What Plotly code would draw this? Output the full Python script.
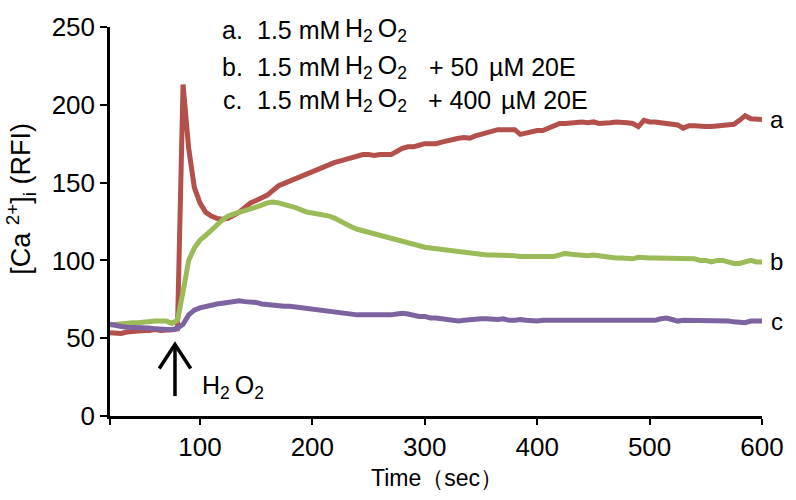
import plotly.graph_objects as go

# Time (sec)
time_s = list(range(20, 601, 5))

# a. 1.5 mM H2O2
series_a = [53.5, 53.5, 53, 54, 54.5, 55, 55, 55, 55.5, 55, 55, 55.5, 56,
            213, 172, 147, 137, 131, 128.5, 127, 126.5, 127, 129, 131, 134, 137,
            138.5, 140.5, 142, 145, 148, 149.5, 151, 152.5, 154, 156, 157.5, 159,
            160, 162, 163, 164, 165, 166.5, 167, 168, 168, 167.5, 168, 168, 168,
            170, 172, 173, 173, 174, 175, 175, 175, 176, 177, 178, 178.5, 179,
            178.5, 180, 181, 182, 183, 184, 184, 184, 184, 181, 182, 183, 183.5,
            183.5, 185, 187, 188, 188, 188.5, 188.5, 189, 188.5, 189, 188, 188,
            188.5, 189, 189, 188.5, 188, 186, 190, 189, 189, 188.5, 188, 188, 187,
            185, 186.5, 186.5, 186, 186, 186, 186.5, 187, 187, 187.5, 190, 193,
            191, 191, 190.5]

# b. 1.5 mM H2O2 + 50 uM 20E
series_b = [58.5, 59, 59.5, 60, 60, 60, 60.5, 60.5, 61, 61, 61, 59.5, 61.5,
            80, 100, 108, 113, 116, 119.5, 123, 126, 128.5, 130, 131, 132, 133,
            134, 135.5, 137, 137.5, 137, 136, 135.5, 134, 132.5, 131, 130.5, 130,
            129, 128.5, 127, 125, 123, 121.5, 120, 119, 118, 117, 116, 115, 114.5,
            113, 112, 111, 110, 109, 108.5, 108, 107.5, 107, 106.5, 106, 105.5,
            105, 104.5, 104.5, 104, 103.5, 103.5, 103.5, 103.5, 103.5, 103, 102.5,
            102.5, 102, 102, 102.5, 102, 102.5, 103.5, 104.5, 104, 103.5, 103.5,
            103, 103.5, 103, 102, 102, 101.5, 101.5, 101.5, 101, 102, 101.5, 101.5,
            101.5, 101.5, 101.5, 101.5, 101.5, 101.5, 101, 101, 100, 100, 99, 100,
            100, 99, 98, 98, 99, 100, 99, 99]

# c. 1.5 mM H2O2 + 400 uM 20E
series_c = [59, 58, 57.5, 57, 57, 57, 56.5, 56.5, 56, 56, 55.5, 55.5, 56.5,
            59, 65, 68, 69.5, 70.5, 71.5, 72, 72.5, 73, 73.5, 74, 73.5, 73.5, 73,
            72, 71.5, 71.5, 71, 70.5, 70.5, 70, 69.5, 69, 69, 68.5, 68, 67.5, 67,
            66, 66, 65.5, 65, 65, 65, 64.5, 64.5, 65, 65, 65.5, 66, 65.5, 64.5, 64,
            64, 63, 63, 62.5, 62, 61.5, 61, 61.5, 62, 62.5, 62.5, 62.5, 62, 62,
            62.5, 61.5, 61.5, 62, 61.5, 61, 61, 61.5, 61.5, 61, 61, 61, 61, 61, 61,
            61, 61, 61.5, 61.5, 61.5, 61.5, 61.5, 61.5, 61.5, 61.5, 61.5, 61.5,
            61.5, 62.5, 63, 62, 61, 61.5, 61.5, 61.5, 61, 61.5, 61.5, 61, 61, 61,
            60.5, 60, 60, 61, 61, 61]

x_ticks = [20, 100, 200, 300, 400, 500, 600]
x_ticktext = ["", "100", "200", "300", "400", "500", "600"]
y_ticks = [0, 50, 100, 150, 200, 250]

colors = {"a": "#B3504C", "b": "#9BBB59", "c": "#7E63A1"}
NB = "\u00a0"
font_family = "Liberation Sans, Arial, sans-serif"

fig = go.Figure()
for key, ys in (("a", series_a), ("b", series_b), ("c", series_c)):
    fig.add_trace(go.Scatter(x=time_s, y=ys, mode="lines",
                             line=dict(color=colors[key], width=5),
                             showlegend=False))

fig.update_layout(
    width=796, height=500,
    margin=dict(l=110, r=29, t=16, b=84),
    plot_bgcolor="white", paper_bgcolor="white",
    font=dict(family=font_family, color="black"),
    xaxis=dict(range=[20, 600], tickvals=x_ticks, ticktext=x_ticktext,
               showline=True, linecolor="black", linewidth=2.5,
               ticks="outside", ticklen=6, tickwidth=2, tickcolor="black",
               showgrid=False, zeroline=False, tickfont=dict(size=26)),
    yaxis=dict(range=[0, 250], tickvals=y_ticks,
               showline=True, linecolor="black", linewidth=2.5,
               ticks="outside", ticklen=7, tickwidth=2, tickcolor="black",
               showgrid=False, zeroline=False, tickfont=dict(size=26)),
)


def px(x):
    return (x - 110) / 657


def py(y):
    return (416 - y) / 400


H2O2 = "H<sub>2</sub>" + "\u2009" + "O<sub>2</sub>"

# Legend-like text lines, as segments (text, left pixel)
legend_rows = [
    (19, [("a.", 221), ("1.5 mM", 256), (H2O2, 345)]),
    (57, [("b.", 221), ("1.5 mM", 256), (H2O2, 345), ("+ 50", 429), ("µM 20E", 490)]),
    (91, [("c.", 222), ("1.5 mM", 256), (H2O2, 345), ("+ 400", 428), ("µM 20E", 502)]),
]
for yy, segs in legend_rows:
    for txt, xx in segs:
        fig.add_annotation(text=txt, xref="paper", yref="paper",
                           x=px(xx), y=py(yy),
                           xanchor="left", yanchor="middle", showarrow=False,
                           font=dict(size=25, family=font_family))

# End labels (right of the plot)
for lab, yv in (("a", series_a[-1]), ("b", series_b[-1]), ("c", series_c[-1])):
    fig.add_annotation(text=lab, x=px(782), y=yv, xref="paper", yref="y",
                       xanchor="center", yanchor="middle", showarrow=False,
                       font=dict(size=24))

# Arrow marking H2O2 addition
ax_x = 77.8
fig.add_shape(type="line", x0=ax_x, x1=ax_x, y0=12.8, y1=46, xref="x", yref="y",
              line=dict(color="black", width=3.5))
fig.add_shape(type="path", xref="x", yref="y",
              path=f"M {ax_x-14},30.5 L {ax_x},46 L {ax_x+14},30.5",
              line=dict(color="black", width=3.5))
fig.add_annotation(text=H2O2, x=px(201), y=py(386),
                   xref="paper", yref="paper",
                   xanchor="left", yanchor="middle", showarrow=False,
                   font=dict(size=25))

# Axis titles
fig.add_annotation(text="Time\uff08sec\uff09", xref="paper", yref="paper",
                   x=px(440), y=py(480),
                   xanchor="center", yanchor="middle", showarrow=False,
                   font=dict(size=23))
fig.add_annotation(text="[Ca <sup>2+</sup>]<sub>i</sub> (RFI)",
                   xref="paper", yref="paper", x=px(20), y=py(193),
                   xanchor="center", yanchor="middle", textangle=-90,
                   showarrow=False, font=dict(size=27))

fig.write_html("out.html", config={"displayModeBar": False},
               post_script="document.body.style.margin='0px';document.body.style.overflow='hidden';")
